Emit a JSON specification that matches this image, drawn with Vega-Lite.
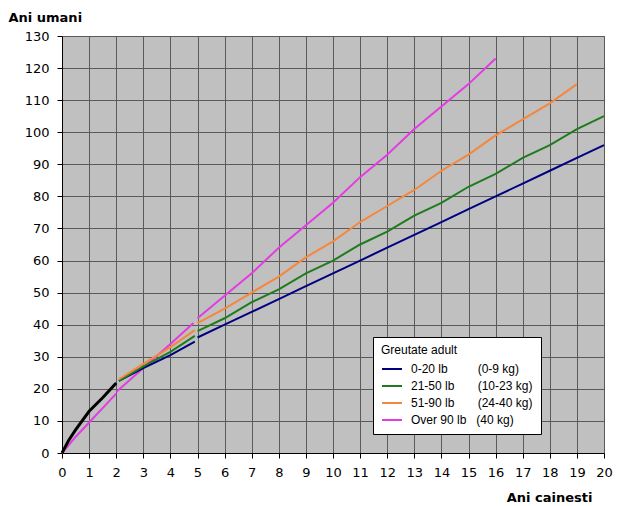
{
  "$schema": "https://vega.github.io/schema/vega-lite/v6.json",
  "width": 542,
  "height": 417,
  "autosize": {"type": "none"},
  "padding": {"left": 62, "top": 36, "right": 31, "bottom": 53},
  "background": "white",
  "config": {
    "view": {"fill": "#c0c0c0", "stroke": "#606060"},
    "font": "DejaVu Sans",
    "axis": {
      "domainColor": "black",
      "tickColor": "black",
      "tickSize": 5,
      "gridColor": "#5a5a5a",
      "gridOpacity": 1,
      "gridWidth": 1,
      "labelColor": "black",
      "labelFont": "DejaVu Sans",
      "labelFontSize": 13,
      "labelOverlap": false,
      "labelFlush": false,
      "titleFont": "DejaVu Sans",
      "titleFontSize": 13,
      "titleFontWeight": "bold",
      "titleColor": "black"
    }
  },
  "datasets": {
    "main": [
      {"g": "Over 90 lb", "s": 1, "x": 0, "y": 0},
      {"g": "Over 90 lb", "s": 1, "x": 0.5, "y": 5},
      {"g": "Over 90 lb", "s": 1, "x": 1, "y": 9.5},
      {"g": "Over 90 lb", "s": 1, "x": 1.5, "y": 14},
      {"g": "Over 90 lb", "s": 1, "x": 2, "y": 18.5},
      {"g": "Over 90 lb", "s": 2, "x": 2, "y": 19},
      {"g": "Over 90 lb", "s": 2, "x": 3, "y": 26.5},
      {"g": "Over 90 lb", "s": 2, "x": 4, "y": 34},
      {"g": "Over 90 lb", "s": 2, "x": 4.85, "y": 40.5},
      {"g": "0-20 lb", "s": 2, "x": 2.1, "y": 22.5},
      {"g": "0-20 lb", "s": 2, "x": 3, "y": 26.5},
      {"g": "0-20 lb", "s": 2, "x": 4, "y": 30.5},
      {"g": "0-20 lb", "s": 2, "x": 4.9, "y": 34.7},
      {"g": "21-50 lb", "s": 2, "x": 2.1, "y": 22.5},
      {"g": "21-50 lb", "s": 2, "x": 3, "y": 27},
      {"g": "21-50 lb", "s": 2, "x": 4, "y": 31.5},
      {"g": "21-50 lb", "s": 2, "x": 4.9, "y": 36.5},
      {"g": "51-90 lb", "s": 2, "x": 2.1, "y": 23},
      {"g": "51-90 lb", "s": 2, "x": 3, "y": 27.8},
      {"g": "51-90 lb", "s": 2, "x": 4, "y": 33},
      {"g": "51-90 lb", "s": 2, "x": 4.9, "y": 38.3},
      {"g": "0-20 lb", "s": 3, "x": 5, "y": 36},
      {"g": "0-20 lb", "s": 3, "x": 6, "y": 40},
      {"g": "0-20 lb", "s": 3, "x": 7, "y": 44},
      {"g": "0-20 lb", "s": 3, "x": 8, "y": 48},
      {"g": "0-20 lb", "s": 3, "x": 9, "y": 52},
      {"g": "0-20 lb", "s": 3, "x": 10, "y": 56},
      {"g": "0-20 lb", "s": 3, "x": 11, "y": 60},
      {"g": "0-20 lb", "s": 3, "x": 12, "y": 64},
      {"g": "0-20 lb", "s": 3, "x": 13, "y": 68},
      {"g": "0-20 lb", "s": 3, "x": 14, "y": 72},
      {"g": "0-20 lb", "s": 3, "x": 15, "y": 76},
      {"g": "0-20 lb", "s": 3, "x": 16, "y": 80},
      {"g": "0-20 lb", "s": 3, "x": 17, "y": 84},
      {"g": "0-20 lb", "s": 3, "x": 18, "y": 88},
      {"g": "0-20 lb", "s": 3, "x": 19, "y": 92},
      {"g": "0-20 lb", "s": 3, "x": 20, "y": 96},
      {"g": "21-50 lb", "s": 3, "x": 5, "y": 38},
      {"g": "21-50 lb", "s": 3, "x": 6, "y": 42},
      {"g": "21-50 lb", "s": 3, "x": 7, "y": 47},
      {"g": "21-50 lb", "s": 3, "x": 8, "y": 51},
      {"g": "21-50 lb", "s": 3, "x": 9, "y": 56},
      {"g": "21-50 lb", "s": 3, "x": 10, "y": 60},
      {"g": "21-50 lb", "s": 3, "x": 11, "y": 65},
      {"g": "21-50 lb", "s": 3, "x": 12, "y": 69},
      {"g": "21-50 lb", "s": 3, "x": 13, "y": 74},
      {"g": "21-50 lb", "s": 3, "x": 14, "y": 78},
      {"g": "21-50 lb", "s": 3, "x": 15, "y": 83},
      {"g": "21-50 lb", "s": 3, "x": 16, "y": 87},
      {"g": "21-50 lb", "s": 3, "x": 17, "y": 92},
      {"g": "21-50 lb", "s": 3, "x": 18, "y": 96},
      {"g": "21-50 lb", "s": 3, "x": 19, "y": 101},
      {"g": "21-50 lb", "s": 3, "x": 20, "y": 105},
      {"g": "51-90 lb", "s": 3, "x": 5, "y": 40.5},
      {"g": "51-90 lb", "s": 3, "x": 6, "y": 45},
      {"g": "51-90 lb", "s": 3, "x": 7, "y": 50},
      {"g": "51-90 lb", "s": 3, "x": 8, "y": 55},
      {"g": "51-90 lb", "s": 3, "x": 9, "y": 61},
      {"g": "51-90 lb", "s": 3, "x": 10, "y": 66},
      {"g": "51-90 lb", "s": 3, "x": 11, "y": 72},
      {"g": "51-90 lb", "s": 3, "x": 12, "y": 77},
      {"g": "51-90 lb", "s": 3, "x": 13, "y": 82},
      {"g": "51-90 lb", "s": 3, "x": 14, "y": 88},
      {"g": "51-90 lb", "s": 3, "x": 15, "y": 93},
      {"g": "51-90 lb", "s": 3, "x": 16, "y": 99},
      {"g": "51-90 lb", "s": 3, "x": 17, "y": 104},
      {"g": "51-90 lb", "s": 3, "x": 18, "y": 109},
      {"g": "51-90 lb", "s": 3, "x": 19, "y": 115},
      {"g": "Over 90 lb", "s": 3, "x": 5, "y": 42},
      {"g": "Over 90 lb", "s": 3, "x": 6, "y": 49},
      {"g": "Over 90 lb", "s": 3, "x": 7, "y": 56},
      {"g": "Over 90 lb", "s": 3, "x": 8, "y": 64},
      {"g": "Over 90 lb", "s": 3, "x": 9, "y": 71},
      {"g": "Over 90 lb", "s": 3, "x": 10, "y": 78},
      {"g": "Over 90 lb", "s": 3, "x": 11, "y": 86},
      {"g": "Over 90 lb", "s": 3, "x": 12, "y": 93},
      {"g": "Over 90 lb", "s": 3, "x": 13, "y": 101},
      {"g": "Over 90 lb", "s": 3, "x": 14, "y": 108},
      {"g": "Over 90 lb", "s": 3, "x": 15, "y": 115},
      {"g": "Over 90 lb", "s": 3, "x": 16, "y": 123}
    ],
    "young": [
      {"x": 0, "y": 0},
      {"x": 0.25, "y": 4},
      {"x": 0.5, "y": 7.2},
      {"x": 1, "y": 13},
      {"x": 1.5, "y": 17.2},
      {"x": 2, "y": 21.8}
    ]
  },
  "encoding": {
    "x": {
      "field": "x", "type": "quantitative",
      "scale": {"domain": [0, 20], "nice": false, "zero": false},
      "axis": {
        "values": [0,1,2,3,4,5,6,7,8,9,10,11,12,13,14,15,16,17,18,19,20],
        "labelPadding": 8,
        "title": "Ani cainesti",
        "titleAlign": "right",
        "titleAnchor": null,
        "titleX": 530,
        "titleY": 44,
        "titleBaseline": "middle"
      }
    },
    "y": {
      "field": "y", "type": "quantitative",
      "scale": {"domain": [0, 130], "nice": false},
      "axis": {
        "values": [0,10,20,30,40,50,60,70,80,90,100,110,120,130],
        "labelPadding": 8,
        "title": "Ani umani",
        "titleAngle": 0,
        "titleAlign": "left",
        "titleAnchor": null,
        "titleX": -54,
        "titleY": -19,
        "titleBaseline": "middle"
      }
    }
  },
  "layer": [
    {
      "data": {"name": "main"},
      "mark": {"type": "line", "strokeWidth": 2},
      "encoding": {
        "color": {
          "field": "g", "type": "nominal",
          "scale": {
            "domain": ["0-20 lb", "21-50 lb", "51-90 lb", "Over 90 lb"],
            "range": ["#000080", "#1e7b1e", "#f5873c", "#e23ce2"]
          },
          "legend": {
            "orient": "none",
            "legendX": 311,
            "legendY": 301,
            "title": "Greutate adult",
            "titleFont": "Liberation Sans",
            "titleFontSize": 12,
            "titleFontWeight": "normal",
            "titleColor": "black",
            "titlePadding": 1,
            "labelFont": "Liberation Sans",
            "labelFontSize": 12,
            "labelColor": "black",
            "labelExpr": "datum.label == '0-20 lb' ? '0-20 lb\u00a0\u00a0\u00a0\u00a0\u00a0\u00a0\u00a0\u00a0\u00a0(0-9 kg)' : datum.label == '21-50 lb' ? '21-50 lb\u00a0\u00a0\u00a0\u00a0\u00a0\u00a0\u00a0(10-23 kg)' : datum.label == '51-90 lb' ? '51-90 lb\u00a0\u00a0\u00a0\u00a0\u00a0\u00a0\u00a0(24-40 kg)' : 'Over 90 lb\u00a0\u00a0\u00a0(40 kg)'",
            "labelLimit": 300,
            "symbolType": "stroke",
            "symbolStrokeWidth": 2,
            "symbolSize": 400,
            "rowPadding": -1,
            "fillColor": "white",
            "strokeColor": "black",
            "padding": 8,
            "labelOffset": 8
          }
        },
        "detail": {"field": "s", "type": "nominal"}
      }
    },
    {
      "data": {"name": "young"},
      "mark": {"type": "line", "strokeWidth": 3, "color": "black"},
      "encoding": {}
    }
  ]
}
